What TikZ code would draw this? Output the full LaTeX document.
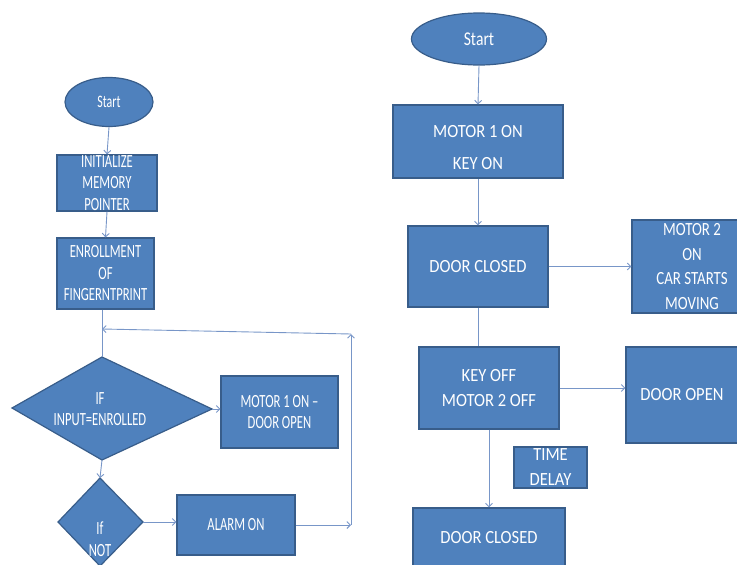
\documentclass[tikz,border=0pt]{standalone}
\usepackage{fontspec}
\setmainfont{Carlito}
\newfontfamily\lfam[FakeStretch=0.68]{Carlito}
\newfontfamily\rfam[FakeStretch=0.89]{Carlito}
\newfontfamily\mfam[FakeStretch=0.8]{Carlito}
\usetikzlibrary{arrows.meta,shapes.geometric}
\definecolor{boxblue}{RGB}{79,129,189}
\definecolor{boxedge}{RGB}{56,93,138}
\definecolor{linkblue}{RGB}{120,150,200}

\begin{document}
\begin{tikzpicture}[x=1pt, y=-1pt,
  blkfill/.style={draw=boxedge, fill=boxblue, line width=1.2pt},
  blk/.style={blkfill, text=white, align=center, inner sep=0pt},
  term/.style={blk, ellipse},
  lfont/.style={font=\lfam\fontsize{18.6}{21.5}\selectfont},
  rfont/.style={font=\rfam\fontsize{18.6}{25}\selectfont},
  link/.style={draw=linkblue, line width=0.9pt, -{Straight Barb[length=3.5pt,width=7pt]}},
  plain/.style={draw=linkblue, line width=0.9pt}]
  \useasboundingbox (0,0) rectangle (737,565);

  % left chart: fingerprint enrollment
  \node[term, font=\lfam\fontsize{17.5}{20}\selectfont, minimum width=88, minimum height=49] (lstart) at (109,102) {Start};
  \node[blk, lfont, minimum width=100, minimum height=56] (init) at (107,183) {INITIALIZE\\MEMORY\\POINTER};
  \node[blk, lfont, minimum width=97, minimum height=71] (enroll) at (105.5,273.5) {ENROLLMENT\\OF\\FINGERNTPRINT};

  % decision shapes (drawn as polygons, kite shaped as in the picture)
  \filldraw[blkfill] (102,357) coordinate (ifT) -- (212,409) coordinate (ifR)
    -- (102,460) coordinate (ifB) -- (12,408) coordinate (ifL) -- cycle;
  \node[lfont, text=white, align=center] (ifin) at (100,409) {IF\\INPUT=ENROLLED};
  \filldraw[blkfill] (100,478) coordinate (nT) -- (143,522) coordinate (nR)
    -- (100,566) coordinate (nB) -- (58,522) coordinate (nL) -- cycle;
  \node[lfont, text=white, align=center] (ifnot) at (100,539) {If\\NOT};

  \node[blk, lfont, minimum width=117, minimum height=72] (motor1) at (279.5,412) {MOTOR 1 ON \textendash\\DOOR OPEN};
  \node[blk, lfont, minimum width=118, minimum height=60] (alarm) at (236,525) {ALARM ON};

  % loop back corners
  \coordinate (loopB) at (351,525);
  \coordinate (loopT) at (351,334);
  \coordinate (loopL) at (102,329);

  \draw[link] (lstart.south) -- (init.north);
  \draw[link] (init.south) -- (enroll.north);
  \draw[plain] (enroll.south -| ifT) -- (ifT);
  \draw[link] (ifR) -- (ifR -| motor1.west);
  \draw[link] (ifB) -- (nT);
  \draw[link] (nR) -- (nR -| alarm.west);
  \draw[link] (alarm.east) -- (loopB);
  \draw[link] (loopB) -- (loopT);
  \draw[link] (loopT) -- (loopL);

  % right chart: car door sequence
  \node[term, font=\mfam\fontsize{19.5}{22}\selectfont, minimum width=135, minimum height=52] (rstart) at (479,39) {Start};
  \node[blk, font=\rfam\fontsize{18.6}{32}\selectfont, minimum width=170, minimum height=73] (keyon) at (478,141.5) {\rule{0pt}{25pt}MOTOR 1 ON\\KEY ON};
  \node[blk, rfont, minimum width=140, minimum height=81] (dclosed) at (478,266.5) {DOOR CLOSED};
  \node[blk, font=\mfam\fontsize{18.6}{24.6}\selectfont, minimum width=120, minimum height=93] (motor2) at (692,266.5) {MOTOR 2\\ON\\CAR STARTS\\MOVING};
  \node[blk, rfont, minimum width=140, minimum height=82] (keyoff) at (489,388) {KEY OFF\\MOTOR 2 OFF};
  \node[blk, rfont, minimum width=112, minimum height=96] (dopen) at (682,395) {DOOR OPEN};
  \node[blk, rfont, minimum width=73, minimum height=41] (tdelay) at (550.5,467.5) {TIME\\DELAY};
  \node[blk, rfont, minimum width=152, minimum height=60] (dclosed2) at (489,538) {DOOR CLOSED};

  \draw[link] (rstart.south) -- (keyon.north);
  \draw[link] (keyon.south) -- (dclosed.north);
  \draw[link] (dclosed.east) -- (motor2.west);
  \draw[plain] (dclosed.south) -- (dclosed.south |- keyoff.north);
  \draw[link] (keyoff.east) -- (keyoff.east -| dopen.west);
  \draw[link] (keyoff.south) -- (dclosed2.north);
\end{tikzpicture}
\end{document}
